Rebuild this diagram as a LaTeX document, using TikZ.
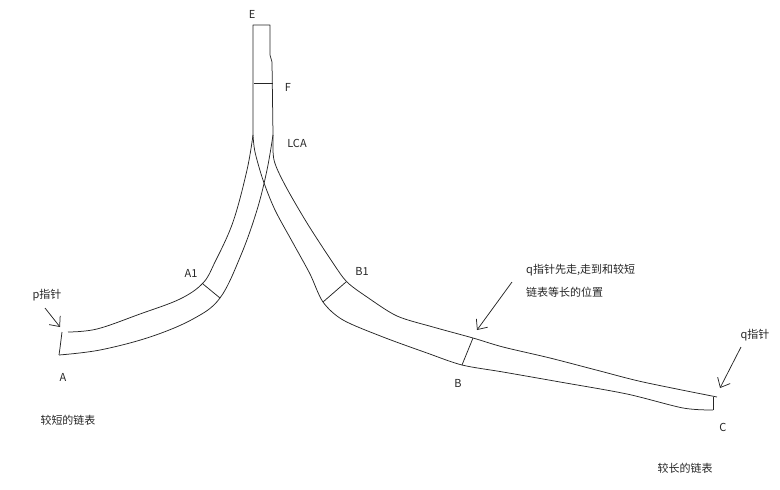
\documentclass[tikz,border=0pt]{standalone}
\usepackage{fontspec}
\setmainfont{Noto Sans CJK SC}
\usepackage{tikz}
\usetikzlibrary{arrows.meta}

\begin{document}
\begin{tikzpicture}[x=1pt, y=-1pt]
            \tikzset{
                pen/.style={black!85, line width=0.75pt, line join=round},
                lbl/.style={font=\fontsize{11}{13}\selectfont, text=black!85, inner sep=0pt},
                ptr/.style={pen, -{Straight Barb[length=8pt, width=14pt]}}
            }
            \useasboundingbox (0,0) rectangle (780,490);

            % Draw the common part (stem)
            \draw[pen] (253,135) -- (253,25) -- (270,25) -- (270,55) -- (272,62) -- (273,135);
            \draw[pen] (254,83) -- (273,83);
            \node[lbl] (E) at (252,14) {E};
            \node[lbl] (F) at (288,87) {F};
            \node[lbl] (LCA) at (297,143) {LCA};

            % Draw the shorter list
            \draw[pen] plot [smooth, tension=0.6] coordinates {(253,135) (247,170)
                    (233,222) (215,262) (203,283) (180,299) (140,314) (97,329)
                    (68,332)};
            \draw[pen] plot [smooth, tension=0.6] coordinates {(273,135) (267,170)
                    (257,210) (241,255) (220,298) (193,319) (150,337) (100,350)
                    (59,355)};
            \draw[pen] (59,355) -- (60,348) -- (62,332);
            \draw[pen] (203,284) -- (220,298);
            \node[lbl] (A1) at (191,273) {A1};
            \node[lbl] (A) at (63,377) {A};
            \node[lbl] (plbl) at (47,295) {p指针};
            \node[lbl] (short) at (68,420) {较短的链表};

            % Draw the longer list
            \draw[pen] plot [smooth, tension=0.5] coordinates {(273,135) (274,160)
                    (285,185) (307,223) (333,263) (347,282) (367,297) (397,316)
                    (433,327) (473,338) (503,347) (550,358) (600,371) (643,382)
                    (717,397)};
            \draw[pen] plot [smooth, tension=0.5] coordinates {(253,135) (255,152)
                    (263,180) (275,210) (293,243) (310,274) (323,302) (343,320)
                    (383,337) (427,353) (462,365) (503,372) (560,382) (627,394)
                    (683,408) (713,410)};
            \draw[pen] (713,397) -- (713,410);
            \draw[pen] (346,282) -- (323,302);
            \draw[pen] (473,338) -- (462,365);
            \node[lbl] (B1) at (362,271) {B1};
            \node[lbl] (B) at (458,383) {B};
            \node[lbl] (C) at (723,427) {C};
            \node[lbl] (qlbl) at (755,335) {q指针};
            \node[lbl, anchor=west] (qtext) at (526,270) {q指针先走,走到和较短};
            \node[lbl, anchor=west] (qtext2) at (526,292) {链表等长的位置};
            \node[lbl] (long) at (685,468) {较长的链表};

            % Pointers
            \coordinate (ptail) at (45,308);
            \coordinate (ptip) at (60,327);
            \coordinate (qtail) at (512,282);
            \coordinate (qtip) at (477,330);
            \coordinate (qendtail) at (741,347);
            \coordinate (qendtip) at (720,388);
            \draw[ptr] (ptail) -- (ptip);
            \draw[ptr] (qtail) -- (qtip);
            \draw[ptr] (qendtail) -- (qendtip);

        \end{tikzpicture}
\end{document}
